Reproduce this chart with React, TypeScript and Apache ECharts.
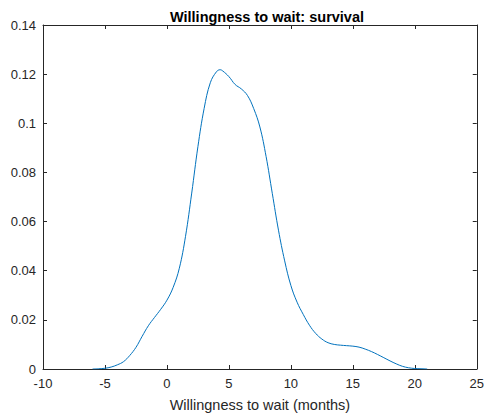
import React, { useEffect, useRef } from "react";
import * as echarts from "echarts";

const titleText = "Willingness to wait: survival";
const xAxisName = "Willingness to wait (months)";

const xValues = [
  -6, -5.5, -5, -4.5, -4, -3.5, -3, -2.5, -2, -1.5, -1, -0.5, 0, 0.5, 1, 1.5, 2, 2.5, 3, 3.5, 4, 4.3, 4.5, 5,
  5.5, 6, 6.5, 7, 7.5, 8, 8.5, 9, 9.5, 10, 10.5, 11, 11.5, 12, 12.5, 13, 13.5, 14, 14.5, 15, 15.5, 16, 16.5,
  17, 17.5, 18, 18.5, 19, 19.5, 20, 20.5, 21,
];
const density = [
  0, 0.0001, 0.0003, 0.0008, 0.0017, 0.003, 0.0055, 0.0088, 0.0133, 0.0176, 0.021, 0.0243, 0.028, 0.0332,
  0.041, 0.054, 0.0716, 0.0905, 0.106, 0.1165, 0.121, 0.1218, 0.1213, 0.119, 0.1158, 0.114, 0.1113, 0.106,
  0.0985, 0.0865, 0.0715, 0.0565, 0.044, 0.034, 0.0272, 0.0222, 0.0178, 0.0145, 0.0122, 0.0107, 0.01, 0.0097,
  0.0095, 0.0093, 0.0089, 0.0081, 0.0071, 0.0059, 0.0046, 0.0033, 0.0021, 0.0011, 0.0005, 0.0002, 0.0001, 0,
];

const xMin = -10;
const xMax = 25;
const xStep = 5;
const yMin = 0;
const yMax = 0.14;
const yStep = 0.02;

export default function App() {
  const ref = useRef<HTMLDivElement>(null);
  useEffect(() => {
    if (!ref.current) return;
    const chart = echarts.init(ref.current, null, { renderer: "svg" });
    const axisColor = "#262626";
    const font = "'Liberation Sans', Arial, Helvetica, sans-serif";
    const baseX = {
      type: "value" as const,
      min: xMin,
      max: xMax,
      interval: xStep,
      splitLine: { show: false },
      axisLine: { show: true, onZero: false, lineStyle: { color: axisColor, width: 1 } },
      axisTick: { show: true, inside: true, length: 4, lineStyle: { color: axisColor } },
    };
    const baseY = {
      type: "value" as const,
      min: yMin,
      max: yMax,
      interval: yStep,
      splitLine: { show: false },
      axisLine: { show: true, onZero: false, lineStyle: { color: axisColor, width: 1 } },
      axisTick: { show: true, inside: true, length: 4, lineStyle: { color: axisColor } },
    };
    chart.setOption({
      animation: false,
      backgroundColor: "#ffffff",
      title: {
        text: titleText,
        left: 262,
        top: 4,
        textAlign: "center",
        textStyle: { fontFamily: font, fontSize: 14.5, fontWeight: "bold", color: "#000000" },
      },
      grid: { left: 43, right: 6, top: 25, bottom: 47, containLabel: false },
      xAxis: [
        {
          ...baseX,
          position: "bottom",
          name: xAxisName,
          nameLocation: "middle",
          nameGap: 28,
          nameTextStyle: { fontFamily: font, fontSize: 14.5, color: axisColor },
          axisLabel: { show: true, fontFamily: font, fontSize: 13, color: axisColor, margin: 8, showMaxLabel: true, showMinLabel: true },
        },
        { ...baseX, position: "top", axisLabel: { show: false } },
      ],
      yAxis: [
        {
          ...baseY,
          position: "left",
          axisLabel: {
            show: true,
            fontFamily: font,
            fontSize: 13,
            color: axisColor,
            margin: 7,
            formatter: (v: number) => String(+v.toFixed(2)),
          },
        },
        { ...baseY, position: "right", axisLabel: { show: false } },
      ],
      series: [
        {
          type: "line",
          xAxisIndex: 0,
          yAxisIndex: 0,
          data: xValues.map((x, i) => [x, density[i]]),
          smooth: 0.4,
          showSymbol: false,
          lineStyle: { color: "#0072BD", width: 1 },
          itemStyle: { color: "#0072BD" },
        },
      ],
    });
    return () => chart.dispose();
  }, []);
  return <div ref={ref} style={{ position: "fixed", left: 0, top: 0, width: 487, height: 417 }} />;
}
